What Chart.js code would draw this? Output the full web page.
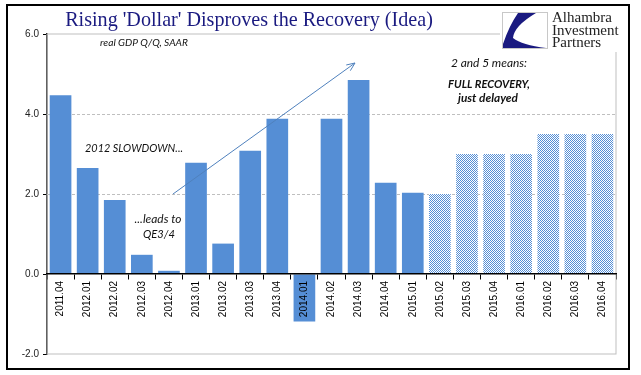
<!DOCTYPE html>
<html lang="en">
<head>
<meta charset="UTF-8">
<title>Rising 'Dollar' Disproves the Recovery (Idea)</title>
<script src="https://cdn.jsdelivr.net/npm/chart.js@4"></script>
<style>
  html, body { margin: 0; padding: 0; background: #fff; }
  #wrap { width: 641px; height: 375px; }
</style>
</head>
<body>
<div id="wrap"><canvas id="gdpChart" width="641" height="375"></canvas></div>
<script>
// quarters on the x axis
const quarters = ['2011.04', '2012.01', '2012.02', '2012.03', '2012.04', '2013.01', '2013.02',
  '2013.03', '2013.04', '2014.01', '2014.02', '2014.03', '2014.04', '2015.01',
  '2015.02', '2015.03', '2015.04', '2016.01', '2016.02', '2016.03', '2016.04'];
// real GDP Q/Q, SAAR (actual), then the "2 and 5" path (projected)
const actualGdp = [4.47, 2.65, 1.85, 0.48, 0.08, 2.78, 0.76, 3.08, 3.88, -1.19, 3.88, 4.85, 2.28, 2.03];
const projectedGdp = [2.0, 3.0, 3.0, 3.0, 3.5, 3.5, 3.5];
const yTicks = [-2, 0, 2, 4, 6];

const BAR_BLUE = '#558ED5';
const NAVY = '#1a1a80';

// checkered fill for the projected bars
function makeChecker() {
  const c = document.createElement('canvas');
  c.width = 2; c.height = 2;
  const g = c.getContext('2d');
  g.fillStyle = '#ffffff';
  g.fillRect(0, 0, 2, 2);
  g.fillStyle = BAR_BLUE;
  g.fillRect(0, 0, 1, 1);
  g.fillRect(1, 1, 1, 1);
  return g.createPattern(c, 'repeat');
}
const checker = makeChecker();

// draw text scaled so it spans a given width
function fitText(ctx, text, cx, baseline, width, style, family, color) {
  ctx.font = style + ' 20px ' + family;
  const size = 20 * width / ctx.measureText(text).width;
  ctx.font = style + ' ' + size.toFixed(2) + 'px ' + family;
  ctx.fillStyle = color;
  ctx.textAlign = 'center';
  ctx.textBaseline = 'alphabetic';
  ctx.fillText(text, cx, baseline);
}

const backdrop = {
  id: 'backdrop',
  beforeDatasetsDraw(chart) {
    const { ctx, chartArea: a, scales: { y } } = chart;
    ctx.save();
    ctx.strokeStyle = '#bfbfbf';
    ctx.lineWidth = 1;
    ctx.strokeRect(a.left, a.top, a.right - a.left, a.bottom - a.top);
    ctx.setLineDash([3, 2]);
    [2, 4].forEach(v => {
      const py = Math.round(y.getPixelForValue(v)) + 0.5;
      ctx.beginPath();
      ctx.moveTo(a.left, py);
      ctx.lineTo(a.right, py);
      ctx.stroke();
    });
    ctx.restore();
  },
  afterDraw(chart) {
    const { ctx } = chart;
    ctx.save();

    // outer frame
    ctx.strokeStyle = '#000';
    ctx.lineWidth = 2;
    ctx.strokeRect(7, 5, 622, 364);

    // title
    fitText(ctx, "Rising 'Dollar' Disproves the Recovery (Idea)", 249, 26, 368, '', '"Liberation Serif", serif', NAVY);

    // logo block
    ctx.fillStyle = '#fff';
    ctx.fillRect(500, 8, 117, 44);
    ctx.strokeStyle = '#c8c8c8';
    ctx.lineWidth = 1;
    ctx.strokeRect(502.5, 12.5, 45, 36);
    ctx.fillStyle = NAVY;
    ctx.beginPath();
    ctx.moveTo(518, 13);
    ctx.lineTo(536, 13);
    ctx.quadraticCurveTo(514, 26, 513, 38);
    ctx.quadraticCurveTo(522, 45, 546, 48);
    ctx.lineTo(503, 48);
    ctx.lineTo(503, 44);
    ctx.quadraticCurveTo(509, 26, 518, 13);
    ctx.fill();
    ctx.textAlign = 'left';
    ctx.fillStyle = '#222';
    ['Alhambra', 'Investment', 'Partners'].forEach((t, i) => {
      ctx.font = '15px "Liberation Serif", serif';
      ctx.fillText(t, 552, 22 + i * 12.5);
    });

    // arrow
    ctx.strokeStyle = '#4F81BD';
    ctx.lineWidth = 1;
    const x0 = 173, y0 = 194, x1 = 355, y1 = 63;
    ctx.beginPath();
    ctx.moveTo(x0, y0);
    ctx.lineTo(x1, y1);
    const ang = Math.atan2(y1 - y0, x1 - x0);
    ctx.moveTo(x1 - 9 * Math.cos(ang - 0.4), y1 - 9 * Math.sin(ang - 0.4));
    ctx.lineTo(x1, y1);
    ctx.lineTo(x1 - 9 * Math.cos(ang + 0.4), y1 - 9 * Math.sin(ang + 0.4));
    ctx.stroke();

    // notes
    const note = '"Lato", "Open Sans", sans-serif';
    fitText(ctx, 'real GDP Q/Q, SAAR', 144, 46, 88, 'italic', note, '#111');
    fitText(ctx, '2012 SLOWDOWN...', 134, 152, 98, 'italic', note, '#111');
    fitText(ctx, '...leads to', 158, 223, 47, 'italic', note, '#111');
    fitText(ctx, 'QE3/4', 159, 238, 32, 'italic', note, '#111');
    fitText(ctx, '2 and 5 means:', 489, 67, 76, 'italic', note, '#111');
    fitText(ctx, 'FULL RECOVERY,', 489, 88, 82, 'italic bold', note, '#111');
    fitText(ctx, 'just delayed', 488, 102, 60, 'italic bold', note, '#111');
    ctx.restore();
  }
};

new Chart(document.getElementById('gdpChart'), {
  type: 'bar',
  data: {
    labels: quarters,
    datasets: [{
      label: 'real GDP Q/Q, SAAR',
      data: actualGdp.concat(projectedGdp),
      backgroundColor: c => c.dataIndex < actualGdp.length ? BAR_BLUE : checker,
      borderWidth: 0,
      barPercentage: 0.8,
      categoryPercentage: 1
    }]
  },
  options: {
    responsive: false,
    animation: false,
    layout: { padding: { left: 0, right: 25, top: 34, bottom: 21 } },
    plugins: { legend: { display: false }, tooltip: { enabled: false } },
    scales: {
      x: {
        position: { y: 0 },
        offset: true,
        grid: { drawOnChartArea: false, offset: true, tickLength: 5, tickColor: '#000', tickWidth: 1 },
        border: { color: '#000', width: 1.5, z: 1 },
        ticks: {
          z: 1,
          minRotation: 90, maxRotation: 90, autoSkip: false, padding: 2,
          color: '#000', font: { family: '"Liberation Sans", sans-serif', size: 10 }
        }
      },
      y: {
        min: yTicks[0],
        max: yTicks[yTicks.length - 1],
        afterBuildTicks: s => { s.ticks = yTicks.map(v => ({ value: v })); },
        afterFit: s => { s.width = 47; },
        grid: { drawOnChartArea: false, tickLength: 4, tickColor: '#000' },
        border: { color: '#000', width: 1.5 },
        ticks: {
          padding: 4, color: '#222',
          font: { family: '"Liberation Sans", sans-serif', size: 10 },
          callback: v => v.toFixed(1)
        }
      }
    }
  },
  plugins: [backdrop]
});
</script>
</body>
</html>
